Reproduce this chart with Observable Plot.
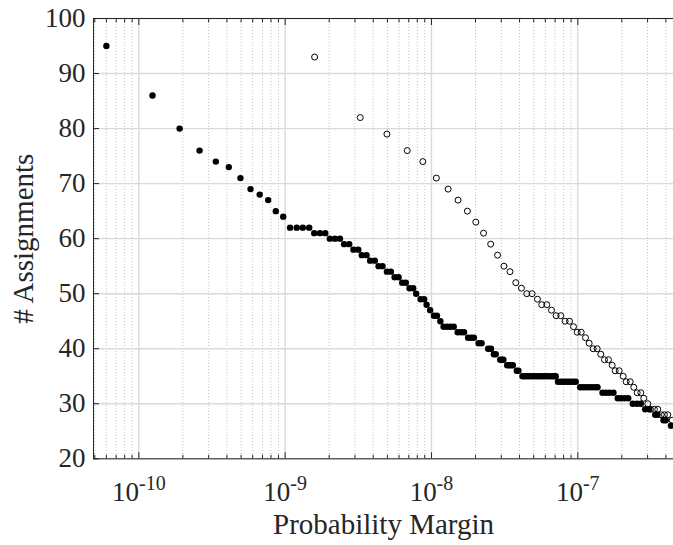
<!DOCTYPE html>
<html><head><meta charset="utf-8">
<script src="https://cdn.jsdelivr.net/npm/d3@7"></script>
<script src="https://cdn.jsdelivr.net/npm/@observablehq/plot@0.6"></script>
<style>body{margin:0;background:#fff} #chart svg{display:block}</style>
</head><body><div id="chart"></div>
<script>
// ---- data ----
const xLabel = "Probability Margin";
const yLabel = "# Assignments";
const xDomain = [4.9e-11, 4.51e-7];
const yDomain = [20, 100];
const majorXTicks = [1e-10, 1e-9, 1e-8, 1e-7];
const yTicks = [20, 30, 40, 50, 60, 70, 80, 90, 100];

// filled series: assignment level and the margins observed at that level
const solidLevels = [95, 86, 80, 76, 74, 73, 71, 69, 68, 67, 65, 64, 62, 61, 60, 59, 58, 57, 56, 55, 54, 53, 52, 51, 50, 49, 48, 47, 46, 45, 44, 43, 42, 41, 40, 39, 38, 37, 36, 35, 34, 33, 32, 31, 30, 29, 28, 27, 26];
const solidMargins = [
  [6.0e-11], [1.24e-10], [1.9e-10], [2.6e-10], [3.36e-10], [4.12e-10], [4.95e-10], [5.8e-10], [6.7e-10], [7.66e-10], [8.63e-10], [9.7e-10],
  [1.08e-9, 1.20e-9, 1.32e-9, 1.46e-9],
  [1.58e-9, 1.73e-9, 1.88e-9],
  [2.02e-9, 2.19e-9, 2.37e-9],
  [2.53e-9, 2.74e-9],
  [2.93e-9, 3.16e-9],
  [3.34e-9, 3.60e-9],
  [3.81e-9, 4.10e-9],
  [4.35e-9, 4.63e-9],
  [4.96e-9, 5.28e-9],
  [5.60e-9, 5.96e-9],
  [6.31e-9, 6.68e-9],
  [7.08e-9, 7.50e-9],
  [7.86e-9],
  [8.43e-9, 8.91e-9],
  [9.26e-9],
  [9.8e-9],
  [1.04e-8, 1.09e-8],
  [1.15e-8],
  [1.21e-8, 1.28e-8, 1.35e-8, 1.42e-8],
  [1.51e-8, 1.59e-8, 1.67e-8],
  [1.78e-8, 1.87e-8, 1.95e-8],
  [2.10e-8, 2.20e-8],
  [2.44e-8, 2.55e-8],
  [2.67e-8, 2.75e-8],
  [2.95e-8, 3.03e-8, 3.10e-8],
  [3.29e-8, 3.39e-8, 3.49e-8, 3.60e-8],
  [3.83e-8, 3.93e-8],
  [4.19e-8, 4.34e-8, 4.52e-8, 4.70e-8, 4.89e-8, 5.08e-8, 5.28e-8, 5.50e-8, 5.71e-8, 5.94e-8, 6.19e-8, 6.44e-8, 6.69e-8, 6.90e-8, 7.07e-8],
  [7.33e-8, 7.65e-8, 7.96e-8, 8.28e-8, 8.61e-8, 8.95e-8, 9.31e-8, 9.68e-8],
  [1.038e-7, 1.085e-7, 1.138e-7, 1.193e-7, 1.250e-7, 1.311e-7, 1.364e-7],
  [1.475e-7, 1.559e-7, 1.647e-7, 1.754e-7],
  [1.877e-7, 1.974e-7, 2.086e-7, 2.211e-7],
  [2.377e-7, 2.539e-7, 2.696e-7],
  [2.888e-7, 3.076e-7],
  [3.381e-7, 3.506e-7],
  [3.852e-7, 3.996e-7],
  [4.336e-7]
];

// open series
const openLevels = [93, 82, 79, 76, 74, 71, 69, 67, 65, 63, 61, 59, 57, 55, 54, 52, 51, 50, 49, 48, 47, 46, 45, 44, 43, 42, 41, 40, 39, 38, 37, 36, 35, 34, 33, 32, 31, 30, 29, 28, 27];
const openMargins = [
  [1.59e-9], [3.26e-9], [4.96e-9], [6.83e-9], [8.73e-9], [1.08e-8], [1.30e-8], [1.52e-8], [1.76e-8], [2.01e-8], [2.27e-8], [2.54e-8], [2.83e-8], [3.13e-8], [3.44e-8], [3.77e-8], [4.12e-8],
  [4.48e-8, 4.87e-8],
  [5.30e-8],
  [5.67e-8, 6.14e-8],
  [6.61e-8],
  [7.11e-8, 7.65e-8],
  [8.19e-8, 8.78e-8],
  [9.35e-8],
  [9.91e-8, 1.055e-7],
  [1.129e-7],
  [1.196e-7],
  [1.274e-7, 1.357e-7],
  [1.436e-7],
  [1.522e-7, 1.621e-7],
  [1.718e-7],
  [1.801e-7, 1.919e-7],
  [2.043e-7],
  [2.142e-7, 2.281e-7],
  [2.414e-7],
  [2.547e-7, 2.696e-7],
  [2.825e-7],
  [3.010e-7],
  [3.14e-7, 3.34e-7, 3.52e-7],
  [3.72e-7, 3.91e-7, 4.12e-7],
  [4.42e-7]
];

// ---- build ----
const toRows = (levels, margins) => levels.flatMap((a, i) => margins[i].map(m => ({margin: m, assign: a})));
const solid = toRows(solidLevels, solidMargins);
const open = toRows(openLevels, openMargins);
const minorXTicks = d3.scaleLog().domain(xDomain).ticks()
  .filter(v => !majorXTicks.some(m => Math.abs(v / m - 1) < 1e-6));

const ink = "#262626";
const serif = "'Liberation Serif', 'Times New Roman', Times, serif";
const blank = () => "";

const chart = Plot.plot({
  width: 673, height: 545,
  marginLeft: 93, marginRight: 0, marginTop: 18, marginBottom: 86.7,
  style: {fontFamily: serif, fontSize: "27px", color: ink, background: "#fff", overflow: "visible"},
  x: {type: "log", domain: xDomain},
  y: {domain: yDomain},
  marks: [
    Plot.ruleX(minorXTicks, {stroke: "#c4c4c4", strokeDasharray: "1,2", strokeWidth: 1}),
    Plot.gridX(majorXTicks, {stroke: "#dadada", strokeOpacity: 1, strokeWidth: 1.4}),
    Plot.gridY(yTicks, {stroke: "#dadada", strokeOpacity: 1, strokeWidth: 1.4}),
    // frame (left, bottom, top)
    Plot.ruleX([xDomain[0]], {stroke: ink, strokeWidth: 1}),
    Plot.ruleY([yDomain[0], yDomain[1]], {stroke: ink, strokeWidth: 1}),
    // inward ticks
    Plot.axisX(majorXTicks, {anchor: "bottom", tickSize: 6, dy: -6, tickFormat: blank, label: null, stroke: ink}),
    Plot.axisX(minorXTicks, {anchor: "bottom", tickSize: 3.5, dy: -3.5, tickFormat: blank, label: null, stroke: ink}),
    Plot.axisX(majorXTicks, {anchor: "top", tickSize: 6, dy: 6, tickFormat: blank, label: null, stroke: ink}),
    Plot.axisX(minorXTicks, {anchor: "top", tickSize: 3.5, dy: 3.5, tickFormat: blank, label: null, stroke: ink}),
    Plot.axisY(yTicks, {anchor: "left", tickSize: 6, dx: 6, tickFormat: blank, label: null, stroke: ink}),
    // tick labels
    Plot.axisX(majorXTicks, {anchor: "bottom", tickSize: 0, tickPadding: 23, label: null, fontSize: 27,
      tickFormat: d => `10^${Math.round(Math.log10(d))}`}),
    Plot.axisY(yTicks, {anchor: "left", tickSize: 0, tickPadding: 8, label: null, fontSize: 27}),
    // axis titles
    Plot.text([xLabel], {text: d => d, frameAnchor: "bottom", lineAnchor: "middle", textAnchor: "middle", dy: 66, fontSize: 29, fill: ink}),
    Plot.text([yLabel], {text: d => d, frameAnchor: "left", lineAnchor: "middle", textAnchor: "middle", rotate: -90, dx: -70, fontSize: 29, fill: ink}),
    // data
    Plot.dot(solid, {x: "margin", y: "assign", r: 3.2, fill: "black", stroke: "none"}),
    Plot.dot(open, {x: "margin", y: "assign", r: 3, fill: "none", stroke: "black", strokeWidth: 1})
  ]
});

// superscript exponents in tick labels
const NS = "http://www.w3.org/2000/svg";
chart.querySelectorAll("text").forEach(t => {
  const m = t.textContent.match(/^10\^(-?\d+)$/);
  if (m) {
    t.textContent = "10";
    const s = document.createElementNS(NS, "tspan");
    s.setAttribute("dy", "-11");
    s.setAttribute("font-size", "20");
    s.textContent = m[1];
    t.appendChild(s);
  }
});
document.getElementById("chart").appendChild(chart);
</script>
</body></html>
